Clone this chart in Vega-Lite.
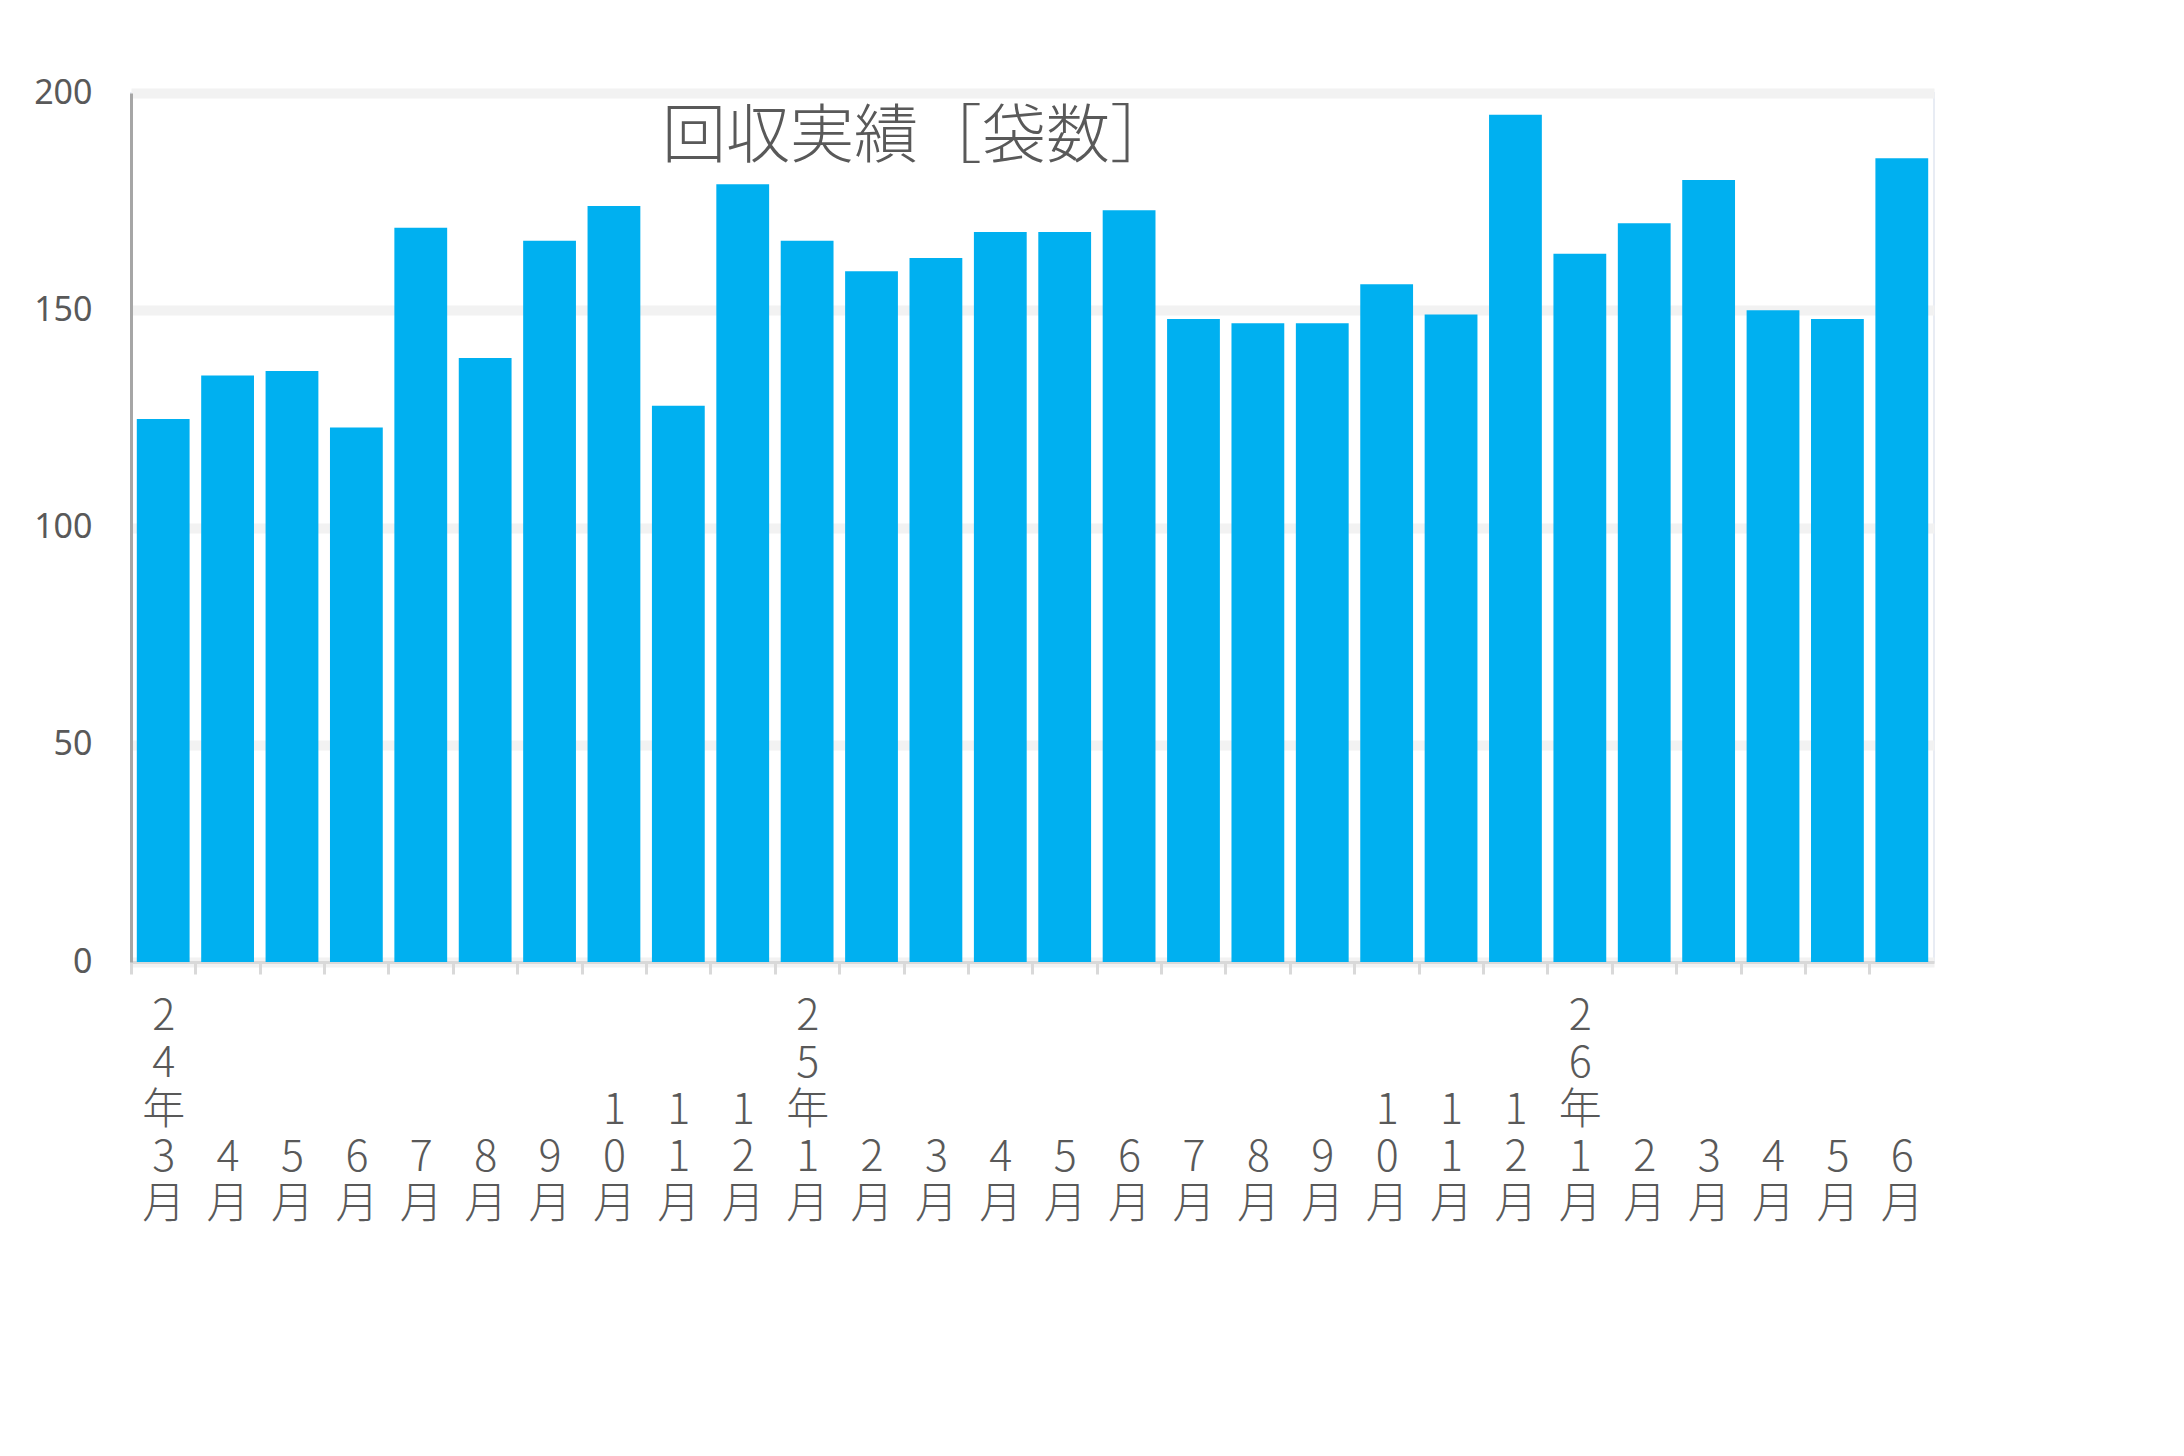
{
  "$schema": "https://vega.github.io/schema/vega-lite/v6.json",
  "width": 1803,
  "height": 869,
  "autosize": {"type": "none"},
  "padding": {"left": 131, "top": 93, "right": 250, "bottom": 494},
  "background": "white",
  "config": {
    "view": {"stroke": "#e8ecf4", "strokeWidth": 2}
  },
  "title": {
    "text": "回収実績［袋数］",
    "anchor": "start",
    "frame": "group",
    "fontSize": 64,
    "font": "Noto Sans CJK JP",
    "fontWeight": 300,
    "color": "#595959",
    "dx": 531,
    "dy": 98
  },
  "data": {
    "values": [
      {"month": "24年3月", "bags": 125},
      {"month": "24年4月", "bags": 135},
      {"month": "24年5月", "bags": 136},
      {"month": "24年6月", "bags": 123},
      {"month": "24年7月", "bags": 169},
      {"month": "24年8月", "bags": 139},
      {"month": "24年9月", "bags": 166},
      {"month": "24年10月", "bags": 174},
      {"month": "24年11月", "bags": 128},
      {"month": "24年12月", "bags": 179},
      {"month": "25年1月", "bags": 166},
      {"month": "25年2月", "bags": 159},
      {"month": "25年3月", "bags": 162},
      {"month": "25年4月", "bags": 168},
      {"month": "25年5月", "bags": 168},
      {"month": "25年6月", "bags": 173},
      {"month": "25年7月", "bags": 148},
      {"month": "25年8月", "bags": 147},
      {"month": "25年9月", "bags": 147},
      {"month": "25年10月", "bags": 156},
      {"month": "25年11月", "bags": 149},
      {"month": "25年12月", "bags": 195},
      {"month": "26年1月", "bags": 163},
      {"month": "26年2月", "bags": 170},
      {"month": "26年3月", "bags": 180},
      {"month": "26年4月", "bags": 150},
      {"month": "26年5月", "bags": 148},
      {"month": "26年6月", "bags": 185}
    ]
  },
  "mark": {"type": "bar", "color": "#00B0F0"},
  "encoding": {
    "x": {
      "field": "month",
      "type": "nominal",
      "sort": null,
      "scale": {"paddingInner": 0.18, "paddingOuter": 0.09},
      "axis": {
        "title": null,
        "domainColor": "#d9d9d9",
        "domainWidth": 3,
        "tickColor": "#d9d9d9",
        "tickWidth": 3,
        "tickSize": 12,
        "bandPosition": 0,
        "tickOffset": -6,
        "labelOffset": 6,
        "labelAngle": 0,
        "labelBaseline": "top",
        "labelFont": "Noto Sans CJK JP",
        "labelFontSize": 43,
        "labelFontWeight": 300,
        "labelLineHeight": 47,
        "labelColor": "#595959",
        "labelPadding": 21,
        "labelExpr": "split(slice('⠀⠀⠀⠀⠀', 0, 5 - length((datum.value == '24年3月' || indexof(datum.value, '年1月') >= 0) ? datum.value : split(datum.value, '年')[1])) + ((datum.value == '24年3月' || indexof(datum.value, '年1月') >= 0) ? datum.value : split(datum.value, '年')[1]), '')"
      }
    },
    "y": {
      "field": "bags",
      "type": "quantitative",
      "scale": {"domain": [0, 200]},
      "axis": {
        "title": null,
        "values": [0, 50, 100, 150, 200],
        "gridColor": "#f2f2f2",
        "gridWidth": 10,
        "domainColor": "#a6a6a6",
        "domainWidth": 3,
        "tickSize": 0,
        "labelFont": "Noto Sans",
        "labelFontSize": 34,
        "labelColor": "#595959",
        "labelPadding": 39
      }
    }
  }
}
